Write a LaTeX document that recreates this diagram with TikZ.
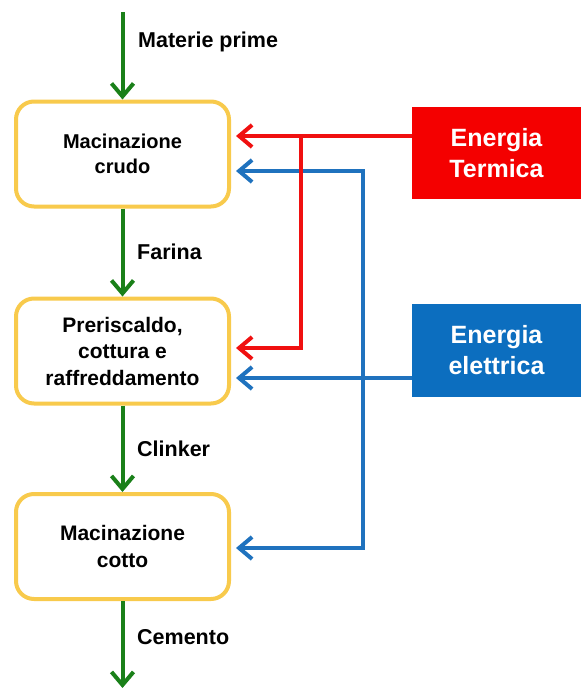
\documentclass[tikz,border=0pt]{standalone}
\usepackage{fontspec}
\setmainfont{Liberation Sans}
\usetikzlibrary{arrows.meta}
\definecolor{gflow}{HTML}{1A8019}
\definecolor{rflow}{HTML}{F01010}
\definecolor{bflow}{HTML}{1F72BE}
\definecolor{ybox}{HTML}{F8CA4C}
\definecolor{rbox}{HTML}{F40000}
\definecolor{bbox}{HTML}{0C6EBF}
\tikzset{
  procbox/.style={draw=ybox, line width=4pt, rounded corners=18pt, fill=white,
    minimum width=213pt, minimum height=105pt, inner sep=0pt, align=center,
    font=\bfseries\fontsize{21}{26.5}\selectfont},
  enbox/.style={minimum width=169pt, minimum height=92pt, inner sep=0pt,
    align=center, text=white, font=\bfseries\fontsize{25}{31}\selectfont},
  barb/.tip={Straight Barb[length=13pt,width=22pt,line width=4pt]},
  gline/.style={-barb, draw=gflow, line width=4pt},
  rline/.style={-barb, draw=rflow, line width=3.5pt, shorten >=5pt},
  bline/.style={-barb, draw=bflow, line width=3.5pt, shorten >=5pt},
  flab/.style={anchor=west, inner sep=0pt, font=\bfseries\fontsize{21.5}{26}\selectfont}
}
\begin{document}
\begin{tikzpicture}[x=1pt,y=-1pt]
\useasboundingbox (0,0) rectangle (581,688);
\node[procbox, font=\bfseries\fontsize{20}{25}\selectfont] (b1) at (122.5,154) {Macinazione\\crudo};
\node[procbox] (b2) at (122.5,351) {Preriscaldo,\\cottura e\\raffreddamento};
\node[procbox] (b3) at (122.5,546.5) {Macinazione\\cotto};
\node[enbox, fill=rbox] (et) at (496.5,153) {Energia\\Termica};
\node[enbox, fill=bbox, minimum height=93pt] (ee) at (496.5,350.5) {Energia\\elettrica};

\coordinate (gin) at (122.5,12);
\coordinate (gout) at (122.5,688);
\draw[gline] (gin) -- (b1.north);
\draw[gline] (b1.south) -- (b2.north);
\draw[gline] (b2.south) -- (b3.north);
\draw[gline] (b3.south) -- (gout);

\node[flab] (l1) at (138,42) {Materie prime};
\node[flab] (l2) at (137,252) {Farina};
\node[flab] (l3) at (137,449) {Clinker};
\node[flab] (l4) at (137,637) {Cemento};

% blue
\coordinate (bt) at (363,171);
\coordinate (bb) at (363,548);
\draw[bline, barb-barb, shorten <=5pt]
  (b1.east |- bt) -- (bt) -- (bb) -- (b3.east |- bb);
\coordinate (be) at (412,378);
\draw[bline] (be) -- (b2.east |- be);

% red
\coordinate (re) at (412,136);
\coordinate (rj) at (301,136);
\coordinate (rk) at (301,348);
\draw[rline] (re) -- (b1.east |- re);
\draw[rline] (rj) -- (rk) -- (b2.east |- rk);
\end{tikzpicture}
\end{document}
